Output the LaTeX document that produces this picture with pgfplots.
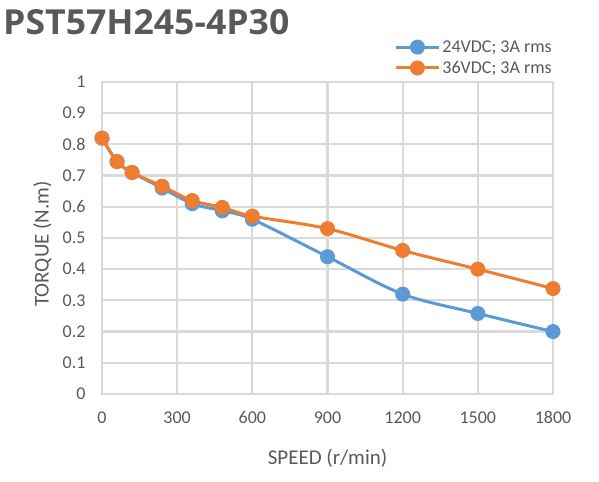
\documentclass[border=0pt]{standalone}
\usepackage{fontspec}
\setmainfont{Carlito}
\newfontfamily\titlefont{Open Sans}
\usepackage{graphicx}
\usepackage{pgfplots}
\pgfplotsset{compat=1.18}
\definecolor{ser24}{HTML}{5B9BD5}
\definecolor{ser36}{HTML}{ED7D31}
\definecolor{txtgray}{HTML}{595959}
\definecolor{gridgray}{HTML}{D9D9D9}

\begin{document}
\begin{tikzpicture}[x=1bp,y=1bp]
\useasboundingbox (0,0) rectangle (599,482);
\node[anchor=base west, inner sep=0pt, text=txtgray] at (3,447)
    {\resizebox{286bp}{25bp}{\titlefont\bfseries PST57H245-4P30}};
\begin{axis}[
    at={(102bp,88bp)}, anchor=south west,
    scale only axis,
    width=451bp, height=312bp,
    xmin=0, xmax=1800,
    ymin=0, ymax=1,
    xtick={0,300,600,900,1200,1500,1800},
    ytick={0,0.1,0.2,0.3,0.4,0.5,0.6,0.7,0.8,0.9,1},
    /pgf/number format/1000 sep={},
    /pgf/number format/assume math mode=true,
    major tick length=0pt,
    grid=major,
    major grid style={draw=gridgray, line width=2.2bp},
    axis line style={draw=gridgray, line width=2.2bp},
    ticklabel style={font=\fontsize{18bp}{20bp}\selectfont, text=txtgray},
    xticklabel style={yshift=-14bp},
    yticklabel style={xshift=-13bp},
    xlabel={SPEED (r/min)},
    ylabel={TORQUE (N.m)},
    label style={font=\fontsize{21bp}{24bp}\selectfont, text=txtgray},
    xlabel style={at={(axis description cs:0.5,-0.2051)}, anchor=center},
    ylabel style={at={(axis description cs:-0.1319,0.4808)}, anchor=center},
    clip=false,
    legend style={at={(axis description cs:0.648,1.14)}, anchor=north west,
        draw=none, fill=none, font=\fontsize{18bp}{20bp}\selectfont,
        text=txtgray, inner sep=0pt, row sep=3.5bp},
    legend cell align=left,
    legend image code/.code={\draw[#1,mark repeat=2,mark phase=2]
        plot coordinates {(0bp,0bp) (21.5bp,0bp) (43bp,0bp)};},
    every axis plot/.append style={line width=3bp, smooth, tension=0.5,
        mark=*, mark size=6bp, mark options={solid, line width=0.5bp}},
]
% 24VDC
\addplot[ser24, mark options={fill=ser24, draw=ser24}] coordinates {
    (0,0.82) (60,0.745) (120,0.71) (240,0.66) (360,0.61) (480,0.587)
    (600,0.56) (900,0.44) (1200,0.32) (1500,0.258) (1800,0.20)
};
% 36VDC
\addplot[ser36, mark options={fill=ser36, draw=ser36}] coordinates {
    (0,0.82) (60,0.745) (120,0.71) (240,0.666) (360,0.62) (480,0.598)
    (600,0.57) (900,0.53) (1200,0.46) (1500,0.40) (1800,0.338)
};
\addlegendentry{24VDC; 3A rms}
\addlegendentry{36VDC; 3A rms}
\end{axis}
\end{tikzpicture}
\end{document}
